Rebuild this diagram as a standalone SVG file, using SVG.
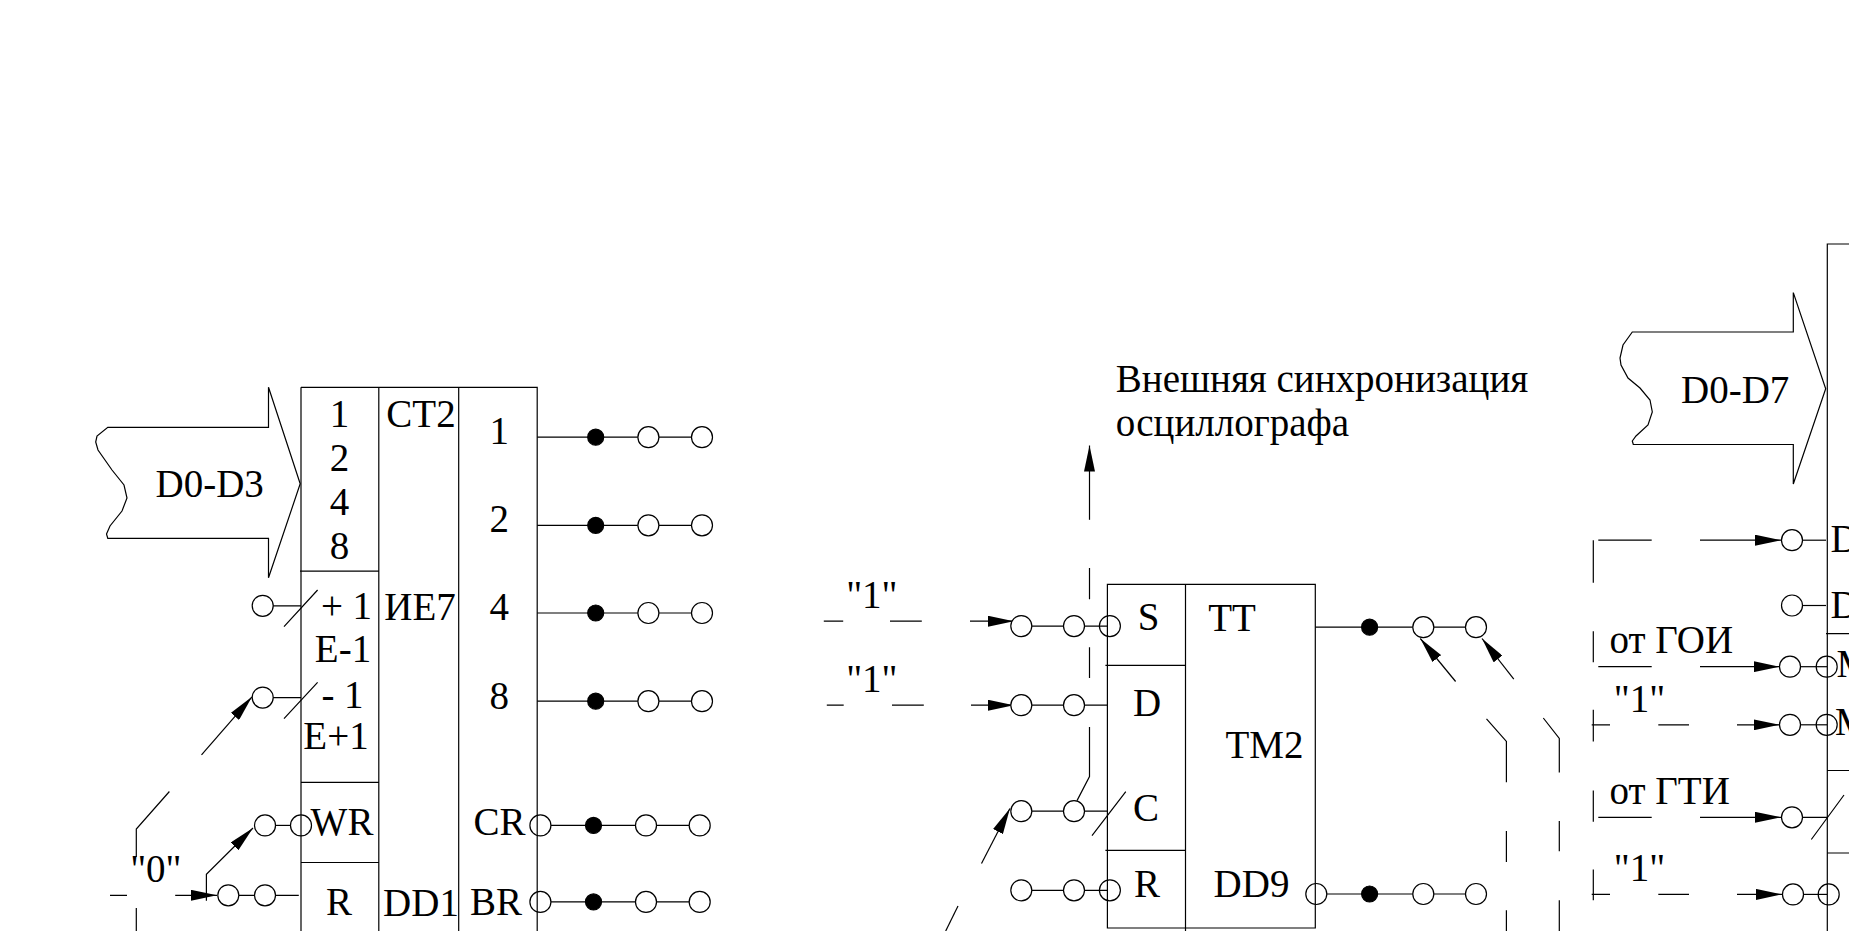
<svg xmlns="http://www.w3.org/2000/svg" width="1849" height="931" viewBox="0 0 1849 931">
<style>
text{font-family:"Liberation Serif","Times New Roman",serif;font-size:39px;fill:#000}
.m{text-anchor:middle}
line,path,rect,polyline{fill:none;stroke:#000;stroke-width:1.2}
circle{stroke:#000;stroke-width:1.2}
circle.o{r:10.5px;fill:#fff}
circle.e{r:10.5px;fill:none}
circle.f{r:8px;fill:#000}
.a{marker-end:url(#h)}
</style>
<defs><marker id="h" markerUnits="userSpaceOnUse" markerWidth="26" markerHeight="11" viewBox="0 0 26 11" refX="26" refY="5.5" orient="auto"><path d="M0 0L26 5.5L0 11Z" style="fill:#000;stroke:none"/></marker></defs>
<rect width="1849" height="931" style="fill:#fff;stroke:none"/>

<g id="bus-d0-d3">
<path d="M107.8 427.4H268.5V387.3L300.2 483.8L268.5 577.8V538.4H107.8L106.5 534L110 526L122 511L127 498L124 485L112 470L98 450L95.7 442L97 436Z"/>
<text x="155.5" y="496.6">D0-D3</text>
</g>

<g id="dd1">
<path d="M301 387.3H537.2V931M301 387.3V931M378.8 387.3V931M458.7 387.3V931M300 571.2H378.8M301 782.4H378.8M301 862.5H378.8"/>
<text class="m" x="339.5" y="426.6">1</text><text class="m" x="339.5" y="470.7">2</text><text class="m" x="339.5" y="514.8">4</text><text class="m" x="339.5" y="558.5">8</text>
<text class="m" x="421" y="427.4">СТ2</text><text class="m" x="420" y="620.4">ИЕ7</text><text class="m" x="421" y="916">DD1</text>
<text class="m" x="499.3" y="443.8">1</text><text class="m" x="499.3" y="531.9">2</text><text class="m" x="499.3" y="620.4">4</text><text class="m" x="499.3" y="708.5">8</text>
<text class="m" x="346.5" y="619.3">+ 1</text><text class="m" x="343" y="662.3">E-1</text><text class="m" x="342.5" y="707.8">- 1</text><text class="m" x="336" y="749">E+1</text>
<text class="m" x="342" y="834.5">WR</text><text class="m" x="339" y="914.5">R</text><text class="m" x="499.5" y="834.5">CR</text><text class="m" x="496" y="914.5">BR</text>
</g>

<g id="dd9">
<path d="M1107.4 584.3H1315.3V928H1107.4ZM1185.5 584.3V931M1105.4 665.3H1185.5M1105.4 850.4H1185.5"/>
<text class="m" x="1148.5" y="630.2">S</text><text class="m" x="1232" y="631.4">TT</text><text class="m" x="1147" y="716.2">D</text><text class="m" x="1264.5" y="758.4">TM2</text><text class="m" x="1146" y="820.6">C</text><text class="m" x="1147" y="897">R</text><text class="m" x="1251.5" y="897">DD9</text>
</g>

<g id="bus-d0-d7">
<path d="M1632.3 332H1793.3V292.6L1825.7 388.7L1793.3 484V444.5H1633.3L1632.3 441L1636 436L1648 425L1652.3 412L1650 400L1640 388L1628 378L1621 365L1620 358L1623 345Z"/>
<text x="1681" y="402.8">D0-D7</text>
</g>

<g id="dd-main">
<path d="M1849 244H1827.3V931M1826 633.6H1849M1827.3 770.5H1849M1827.3 853H1849"/>
<text x="1830.5" y="552.4">D</text><text x="1830.5" y="618.2">D</text><text x="1836.5" y="676.7">M</text><text x="1835" y="734.7">M</text>
</g>

<g id="labels">
<text x="1115.8" y="391.5">Внешняя синхронизация</text>
<text x="1115.8" y="435.5">осциллографа</text>
<text class="m" x="155.8" y="881.5">"0"</text>
<text class="m" x="871.8" y="607.6">"1"</text>
<text class="m" x="871.8" y="691.7">"1"</text>
<text class="m" x="1639.5" y="712">"1"</text>
<text class="m" x="1639.5" y="881.2">"1"</text>
<text x="1609.5" y="653.1">от ГОИ</text>
<text x="1609.5" y="804.1">от ГТИ</text>
</g>

<g id="connectors">
<path d="M537.2 437.2H691.5M537.2 525.3H691.5M537.2 613H691.5M537.2 701.2H691.5M551 825.4H689M551 901.9H689"/>
<circle class="f" cx="595.7" cy="437.2"/><circle class="o" cx="648.4" cy="437.2"/><circle class="o" cx="702" cy="437.2"/>
<circle class="f" cx="595.7" cy="525.3"/><circle class="o" cx="648.4" cy="525.3"/><circle class="o" cx="702" cy="525.3"/>
<circle class="f" cx="595.7" cy="613"/><circle class="o" cx="648.4" cy="613"/><circle class="o" cx="702" cy="613"/>
<circle class="f" cx="595.7" cy="701.2"/><circle class="o" cx="648.4" cy="701.2"/><circle class="o" cx="702" cy="701.2"/>
<circle class="e" cx="540.4" cy="825.4"/><circle class="f" cx="593.5" cy="825.4"/><circle class="o" cx="646" cy="825.4"/><circle class="o" cx="699.7" cy="825.4"/>
<circle class="e" cx="540.4" cy="901.9"/><circle class="f" cx="593.5" cy="901.9"/><circle class="o" cx="646" cy="901.9"/><circle class="o" cx="699.7" cy="901.9"/>
<circle class="o" cx="262.7" cy="605.8"/><path d="M273 605.8H301M317.6 590L284 626.6"/>
<circle class="o" cx="262.7" cy="697.6"/><path d="M273 697.6H301M317.6 682.3L284 718.7"/>
<line class="a" x1="201.5" y1="754.8" x2="252" y2="696.8"/>
<path d="M169.4 791.5L136.3 829V857M136.3 908V931M110 895.3H127"/>
<line class="a" x1="175.2" y1="895.3" x2="217" y2="895.3"/>
<path d="M238.8 895.3H298.8"/>
<circle class="o" cx="228.3" cy="895.3"/><circle class="o" cx="265" cy="895.3"/>
<polyline class="a" points="206.4,900.8 206.4,874.2 253,828"/>
<path d="M275.5 825.4H290.5"/>
<circle class="o" cx="265" cy="825.4"/><circle class="e" cx="301" cy="825.4"/>
<line class="a" x1="1089.5" y1="519.8" x2="1089.5" y2="445.5"/>
<path d="M1089.5 568V599.3M1089.5 647.2V678.1M1089.5 727.1V776.5L1077 800.6"/>
<path d="M823.8 621.2H843.2M890 621.2H921.8M826.8 705.2H843.7M892 705.2H923.8"/>
<line class="a" x1="970" y1="621.2" x2="1013.8" y2="621.2"/>
<line class="a" x1="971" y1="705.2" x2="1013.8" y2="705.2"/>
<path d="M1031.8 626.1H1107.4"/>
<circle class="o" cx="1021.3" cy="626.1"/><circle class="o" cx="1074" cy="626.1"/><circle class="e" cx="1109.9" cy="626.1"/>
<path d="M1031.8 705.2H1107.4"/>
<circle class="o" cx="1021.3" cy="705.2"/><circle class="o" cx="1074" cy="705.2"/>
<path d="M1031.8 811.2H1107.4M1125.8 791.6L1092 835.7"/>
<circle class="o" cx="1021.3" cy="811.2"/><circle class="o" cx="1074" cy="811.2"/>
<line class="a" x1="981.5" y1="863.6" x2="1009.9" y2="808.5"/>
<path d="M958 906.1L945.7 931"/>
<path d="M1031.8 890.3H1107.4"/>
<circle class="o" cx="1021.3" cy="890.3"/><circle class="o" cx="1074" cy="890.3"/><circle class="e" cx="1109.9" cy="890.3"/>
<path d="M1315.3 627.2H1465.5M1327 894H1465.5"/>
<circle class="f" cx="1369.6" cy="627.2"/><circle class="o" cx="1423.3" cy="627.2"/><circle class="o" cx="1476" cy="627.2"/>
<circle class="e" cx="1316.3" cy="894"/><circle class="f" cx="1369.6" cy="894"/><circle class="o" cx="1423.3" cy="894"/><circle class="o" cx="1476" cy="894"/>
<line class="a" x1="1455.6" y1="681.5" x2="1420.3" y2="638.5"/>
<line class="a" x1="1513.8" y1="679.2" x2="1482" y2="638.5"/>
<path d="M1486.5 718.8L1506.4 741.4V782.2M1506.4 831.1V862M1506.4 910.3V931"/>
<path d="M1543.3 718L1559.3 738.4V772.4M1559.3 821V851.3M1559.3 900.3V931"/>
<path d="M1593.3 540.2V582.8M1593.3 631.3V662.2M1593.3 709.8V741.5M1593.3 790.5V821.8M1593.3 869.4V900.3"/>
<path d="M1598.3 540.2H1651.7M1598.3 666.7H1651.7M1598.3 817.3H1651.7M1591.7 724.8H1610M1658.3 724.8H1689M1591.7 894.4H1610M1658.3 894.4H1689"/>
<line class="a" x1="1700" y1="540.2" x2="1781" y2="540.2"/>
<line class="a" x1="1700" y1="666.7" x2="1779.5" y2="666.7"/>
<line class="a" x1="1737" y1="724.8" x2="1779.5" y2="724.8"/>
<line class="a" x1="1700" y1="817.3" x2="1781" y2="817.3"/>
<line class="a" x1="1737" y1="894.4" x2="1782" y2="894.4"/>
<circle class="o" cx="1792" cy="540.2"/><path d="M1802.5 540.2H1826"/>
<circle class="o" cx="1792" cy="605.5"/><path d="M1802.5 605.5H1826"/>
<path d="M1800.5 666.7H1827"/>
<circle class="o" cx="1790" cy="666.7"/><circle class="e" cx="1826.7" cy="666.7"/>
<path d="M1800.5 724.8H1827"/>
<circle class="o" cx="1790" cy="724.8"/><circle class="e" cx="1826.7" cy="724.8"/>
<circle class="o" cx="1792" cy="817.3"/><path d="M1802.5 817.3H1827M1844 795L1811.3 839.5"/>
<path d="M1803.5 894.4H1827"/>
<circle class="o" cx="1793" cy="894.4"/><circle class="e" cx="1828.7" cy="894.4"/>
</g>
</svg>
